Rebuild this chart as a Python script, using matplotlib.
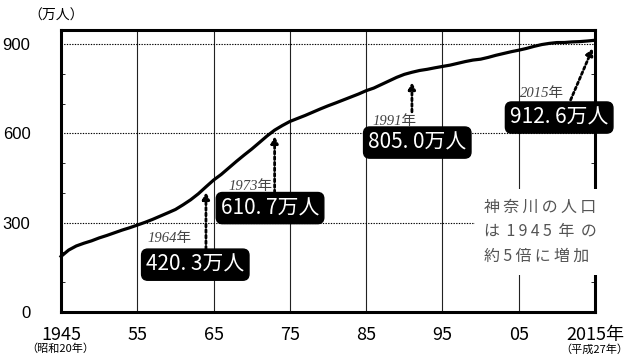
import matplotlib
matplotlib.use("Agg")
import matplotlib.pyplot as plt
from matplotlib.ticker import MultipleLocator

# 神奈川県の人口（万人）
years = list(range(1945, 2016))
population = [
    186.6, 208, 221.8, 231, 239, 248.8, 257, 266, 275, 283,
    291.9, 301, 311, 322, 333, 344.3, 360, 377, 397, 420.3,
    443.1, 462, 484, 506, 527, 547.2, 569, 591, 610.7, 626,
    639.8, 650, 660, 671, 682, 692.4, 702, 712, 722, 732,
    743.2, 752, 764, 776, 788, 798.0, 805.0, 811, 815, 820,
    824.6, 829, 835, 841, 846, 849.0, 855, 862, 868, 874,
    879.2, 885, 892, 898, 902, 904.8, 905, 907, 908, 910,
    912.6,
]

xticks = [1945, 1955, 1965, 1975, 1985, 1995, 2005, 2015]
xtick_labels = ["1945", "55", "65", "75", "85", "95", "05", "2015年"]
yticks = [0, 300, 600, 900]

# highlighted points: year, value label, arrow tail/head, box centre, year-label spot
marks = [
    (1964, "420. 3万人", (1964, 211), (1964, 403), (1962.6, 159), (1956.3, 248)),
    (1973, "610. 7万人", (1973, 400), (1973, 591), (1972.4, 349), (1966.9, 420)),
    (1991, "805. 0万人", (1991, 672), (1991, 772), (1991.7, 569), (1985.8, 641)),
    (2015, "912. 6万人", (2011.8, 712), (2014.7, 886), (2010.3, 653), (2005.2, 735)),
]

T = "\u2009"  # thin space, comes from DejaVu Sans
note_lines = [
    T.join("神奈川の人口"),
    "は" + T * 2 + T.join("1945") + T * 2 + "年" + T * 2 + "の",
    T.join("約5倍に増加"),
]

JP_FONT = ["Noto Sans CJK JP", "DejaVu Sans"]

fig = plt.figure(figsize=(6.31, 3.57), dpi=100)
ax = fig.add_axes([0.0967, 0.126, 0.8463, 0.790])

ax.plot(years, population, color="black", lw=2.3, zorder=4, clip_on=False)

ax.set_xlim(1945, 2015)
ax.set_ylim(0, 947)

for x in xticks[1:-1]:
    ax.axvline(x, color="#222222", lw=0.8, zorder=1)
for y in yticks[1:]:
    ax.axhline(y, color="black", lw=0.8, ls=(0, (1.2, 1.2)), zorder=1)

ax.set_xticks(xticks)
ax.set_xticklabels(xtick_labels, family=JP_FONT, fontsize=13)
ax.set_yticks(yticks)
ax.set_yticklabels([str(v) for v in yticks], family=["Liberation Sans", "DejaVu Sans"],
                   fontsize=12)
ax.yaxis.set_minor_locator(MultipleLocator(100))
ax.tick_params(axis="x", length=0, pad=10)
ax.tick_params(axis="y", which="major", length=0, pad=22)
ax.tick_params(axis="y", which="minor", direction="in", length=3, right=True)
for s in ax.spines.values():
    s.set_linewidth(2.2)

fig.text(0.045, 0.955, "（万人）", family=JP_FONT, fontsize=10, va="center", ha="left")
fig.text(0.095, 0.022, "（昭和20年）", family=JP_FONT, fontsize=8, va="center", ha="center")
fig.text(0.942, 0.022, "（平成27年）", family=JP_FONT, fontsize=8, va="center", ha="center")

for yr, label, tail, head, box, ylab in marks:
    ax.annotate("", xy=head, xytext=tail,
                arrowprops=dict(arrowstyle="-|>", lw=2, ls=(0, (1, 1)),
                                color="black", mutation_scale=10, shrinkA=0, shrinkB=0),
                zorder=5, annotation_clip=False)
    ax.text(box[0], box[1], label, family=JP_FONT, fontsize=15, color="white",
            ha="center", va="center", zorder=6,
            bbox=dict(boxstyle="round,pad=0.22,rounding_size=0.3", fc="black", ec="black"))
    ax.text(ylab[0], ylab[1], f"{yr}年", family=["Liberation Serif", "Noto Sans CJK JP"],
            style="italic", fontsize=10.5, color="#444444", ha="left", va="center", zorder=6)

ax.text(2007.9, 269, "\n".join(note_lines),
        family=JP_FONT, fontsize=11.5, color="#555555", ha="center", va="center",
        multialignment="left", linespacing=1.6, zorder=3,
        bbox=dict(boxstyle="square,pad=0.6", fc="white", ec="none"))

fig.savefig("out.png", dpi=100)
